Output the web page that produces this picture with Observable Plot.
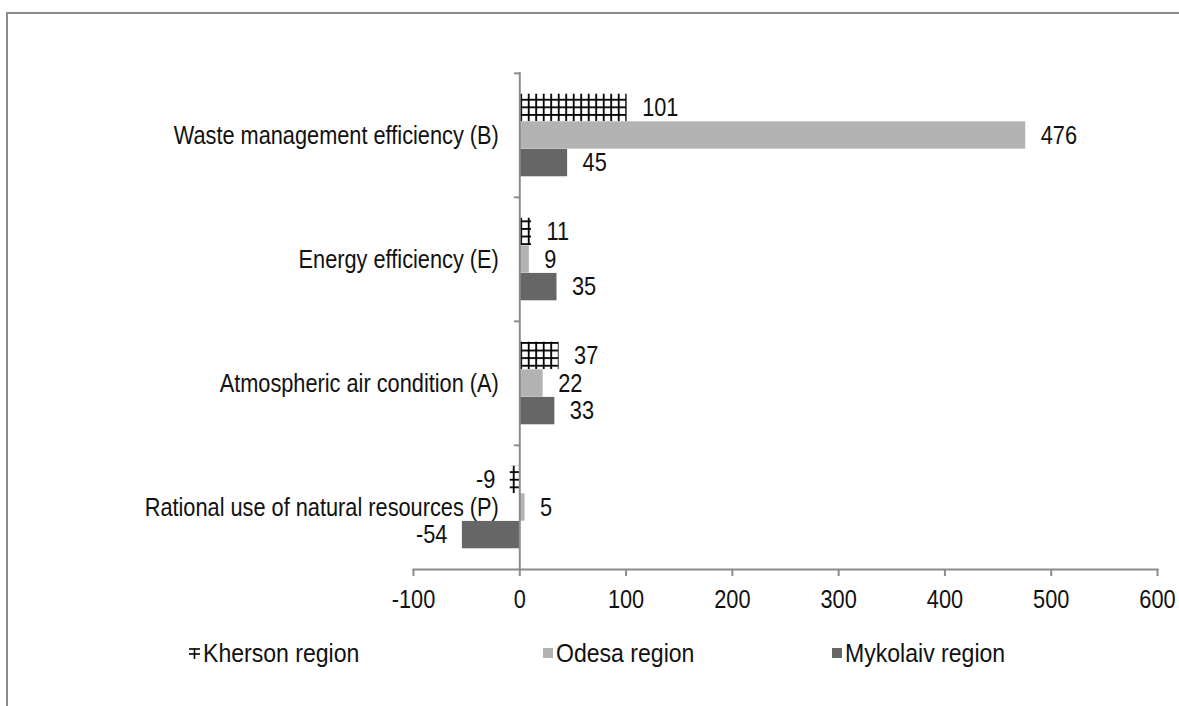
<!DOCTYPE html>
<html>
<head>
<meta charset="utf-8">
<script src="https://cdn.jsdelivr.net/npm/d3@7"></script>
<script src="https://cdn.jsdelivr.net/npm/@observablehq/plot@0.6"></script>
<style>
  html, body { margin: 0; padding: 0; background: #fff; }
  body { width: 1179px; height: 706px; position: relative; overflow: hidden;
         font-family: "Liberation Sans", Arial, sans-serif; }
  #border { position: absolute; left: 6px; top: 12px; width: 1200px; height: 720px;
            border-left: 2px solid #8c8c8c; border-top: 2px solid #8c8c8c; }
  #chart { position: absolute; left: 0; top: 0; }
  .leg { position: absolute; top: 639px; font-size: 26.5px; color: #111; line-height: 28px;
         display: flex; align-items: center; white-space: nowrap; }
  .leg span.t { display: inline-block; transform: scaleX(0.87); transform-origin: left center; }
  .sw { display: inline-block; width: 10px; height: 10px; margin-right: 3px; }
</style>
</head>
<body>
<div id="border"></div>
<div id="chart"></div>
<div class="leg" style="left:189px"><svg class="sw" width="11" height="12" viewBox="0 0 11 12" style="width:11px;height:12px"><line x1="5.5" y1="1" x2="5.5" y2="12" stroke="#000" stroke-width="1.6"/><line x1="0" y1="2" x2="11" y2="2" stroke="#000" stroke-width="1.6"/><line x1="0" y1="7" x2="11" y2="7" stroke="#000" stroke-width="1.6"/></svg><span class="t">Kherson region</span></div>
<div class="leg" style="left:543px"><span class="sw" style="background:#b3b3b3"></span><span class="t">Odesa region</span></div>
<div class="leg" style="left:832px"><span class="sw" style="background:#666666"></span><span class="t">Mykolaiv region</span></div>
<script>
// ---- data ----
const categories = [
  "Waste management efficiency (B)",
  "Energy efficiency (E)",
  "Atmospheric air condition (A)",
  "Rational use of natural resources (P)"
];
const regions = ["Kherson region", "Odesa region", "Mykolaiv region"];
const khersonValues = [101, 11, 37, -9];
const odesaValues = [476, 9, 22, 5];
const mykolaivValues = [45, 35, 33, -54];
const xTicks = [-100, 0, 100, 200, 300, 400, 500, 600];

const seriesValues = [khersonValues, odesaValues, mykolaivValues];
const rows = regions.flatMap((r, k) =>
  categories.map((c, i) => ({region: r, category: c, value: seriesValues[k][i]})));

// ---- layout ----
const W = 1179, H = 625, mT = 72, mB = 56, mL = 413, mR = 22;
const band = (H - mT - mB) / categories.length;
const barH = 27.6;
const top0 = (band - barH * regions.length) / 2;
const fills = ["url(#khersonGrid)", "#b3b3b3", "#666666"];
const fontSize = 25;
const squeeze = 0.87;
const axisColor = "#8c8c8c";
const fontFamily = '"Liberation Sans", Arial, sans-serif';

const marks = [];
regions.forEach((r, k) => {
  const d = rows.filter(x => x.region === r);
  const insetTop = top0 + k * barH;
  const insetBottom = band - insetTop - barH;
  marks.push(Plot.barX(d, {x: "value", y: "category", fill: fills[k], insetTop, insetBottom}));
  const dy = (k - 1) * barH;
  marks.push(Plot.text(d.filter(x => x.value >= 0), {x: "value", y: "category", text: x => String(x.value),
    textAnchor: "start", dx: 15, dy, fontSize, fill: "#111"}));
  marks.push(Plot.text(d.filter(x => x.value < 0), {x: "value", y: "category", text: x => String(x.value),
    textAnchor: "end", dx: -15, dy, fontSize, fill: "#111"}));
});

const plot = Plot.plot({
  width: W, height: H,
  marginTop: mT, marginBottom: mB, marginLeft: mL, marginRight: mR,
  style: {fontFamily, background: "transparent", overflow: "visible"},
  x: {domain: [-100, 600], axis: null, label: null},
  y: {domain: categories, padding: 0, axis: null, label: null},
  marks: [
    ...marks,
    Plot.ruleX([0], {stroke: axisColor, strokeWidth: 2}),
    Plot.frame({anchor: "bottom", stroke: axisColor, strokeWidth: 2}),
    Plot.axisX({ticks: xTicks, tickFormat: d => String(d), tickSize: 7, tickPadding: 14, label: null,
      stroke: axisColor, strokeWidth: 2, fontSize, fill: "#111"}),
    Plot.axisY({anchor: "left", tickSize: 6, tickFormat: () => "", dx: 107, dy: -band / 2, label: null,
      stroke: axisColor, strokeWidth: 2}),
    Plot.text(categories, {y: d => d, x: () => 0, textAnchor: "end", dx: -21, fontSize, fill: "#111"})
  ]
});

// condense the text horizontally (the reference uses a narrow face)
plot.querySelectorAll("text").forEach(t => {
  const x = +t.getAttribute("x") || 0;
  const y = +t.getAttribute("y") || 0;
  const tr = t.getAttribute("transform") || "";
  t.setAttribute("transform", `${tr} translate(${x},${y}) scale(${squeeze},1) translate(${-x},${-y})`.trim());
});

// grid pattern for Kherson bars
const x0 = plot.scale("x").apply(0);
const ns = "http://www.w3.org/2000/svg";
const defs = document.createElementNS(ns, "defs");
const pat = document.createElementNS(ns, "pattern");
pat.setAttribute("id", "khersonGrid");
pat.setAttribute("patternUnits", "userSpaceOnUse");
pat.setAttribute("width", 7.5);
pat.setAttribute("height", 7.6);
pat.setAttribute("x", x0 + 1);
pat.setAttribute("y", 0);
const bg = document.createElementNS(ns, "rect");
bg.setAttribute("width", 7.5); bg.setAttribute("height", 7.6); bg.setAttribute("fill", "#fff");
pat.appendChild(bg);
const v = document.createElementNS(ns, "rect");
v.setAttribute("x", 0); v.setAttribute("y", 0); v.setAttribute("width", 1.8); v.setAttribute("height", 7.6); v.setAttribute("fill", "#000");
pat.appendChild(v);
const h = document.createElementNS(ns, "rect");
h.setAttribute("x", 0); h.setAttribute("y", 0); h.setAttribute("width", 7.5); h.setAttribute("height", 1.8); h.setAttribute("fill", "#000");
pat.appendChild(h);
defs.appendChild(pat);
plot.insertBefore(defs, plot.firstChild);

document.getElementById("chart").appendChild(plot);
</script>
</body>
</html>
